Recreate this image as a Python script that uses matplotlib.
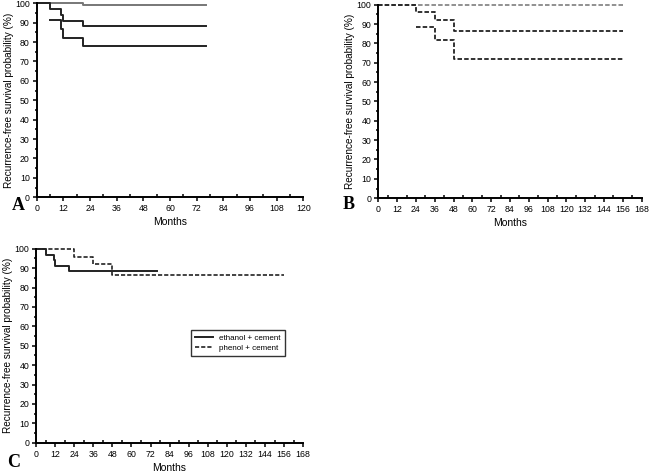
import matplotlib
matplotlib.use("Agg")
import matplotlib.pyplot as plt
from matplotlib.ticker import MultipleLocator

plt.rcParams['font.family'] = ['Liberation Sans', 'DejaVu Sans']

# panel A: ethanol + cement, KM estimate with confidence bounds
a_mid_t = [0, 6, 11, 12, 21, 76]
a_mid_s = [100, 97, 94, 91, 88.3, 88.3]
a_up_t = [0, 21, 76]
a_up_s = [100, 99, 99]
a_lo_t = [6, 11, 12, 21, 76]
a_lo_s = [91.5, 86.5, 82, 78, 78]

# panel B: phenol + cement
b_mid_t = [0, 24, 36, 48, 156]
b_mid_s = [100, 96, 92.3, 86.5, 86.5]
b_up_t = [0, 156]
b_up_s = [100, 100]
b_lo_t = [24, 36, 48, 156]
b_lo_s = [88.5, 82, 72, 72]

# panel C: both estimates
c_eth_t = [0, 6, 11, 12, 21, 76]
c_eth_s = [100, 97, 94, 91, 88.3, 88.3]
c_phe_t = [0, 24, 36, 48, 156]
c_phe_s = [100, 96, 92.3, 86.5, 86.5]

fig = plt.figure(figsize=(6.5, 4.73), dpi=100)
axA = fig.add_axes([0.0565, 0.583, 0.410, 0.410])
axB = fig.add_axes([0.582, 0.581, 0.405, 0.409])
axC = fig.add_axes([0.0554, 0.064, 0.411, 0.410])


def style(ax, xmax):
    ax.set_xlim(0, xmax)
    ax.set_ylim(0, 100)
    for s in ['top', 'right']:
        ax.spines[s].set_visible(False)
    for s in ['left', 'bottom']:
        ax.spines[s].set_linewidth(1.4)
    ax.xaxis.set_major_locator(MultipleLocator(12))
    ax.xaxis.set_minor_locator(MultipleLocator(6))
    ax.yaxis.set_major_locator(MultipleLocator(10))
    ax.yaxis.set_minor_locator(MultipleLocator(5))
    ax.tick_params(which='major', direction='out', length=3, width=1.1, labelsize=6.3, pad=2)
    ax.tick_params(axis='x', which='minor', direction='in', length=2.5, width=1.1)
    ax.tick_params(axis='y', which='minor', direction='out', length=1.8, width=1.1)
    ax.set_xlabel('Months', fontsize=7.5, labelpad=3)
    ax.set_ylabel('Recurrence-free survival probability (%)', fontsize=7.2, labelpad=1)


style(axA, 120)
axA.step(a_up_t, a_up_s, where='post', color='#777777', lw=1.4, clip_on=False)
axA.step(a_mid_t, a_mid_s, where='post', color='#222222', lw=1.4, clip_on=False)
axA.step(a_lo_t, a_lo_s, where='post', color='#222222', lw=1.4, clip_on=False)

style(axB, 168)
dash = (0, (2.5, 1.2))
axB.step(b_up_t, b_up_s, where='post', color='#888888', lw=1.3, ls=dash, clip_on=False)
axB.step(b_mid_t, b_mid_s, where='post', color='#222222', lw=1.3, ls=dash, clip_on=False)
axB.step(b_lo_t, b_lo_s, where='post', color='#222222', lw=1.3, ls=dash, clip_on=False)

style(axC, 168)
axC.step(c_eth_t, c_eth_s, where='post', color='#222222', lw=1.4, clip_on=False,
         label='ethanol + cement')
axC.step(c_phe_t, c_phe_s, where='post', color='#222222', lw=1.2, ls=dash,
         clip_on=False, label='phenol + cement')
leg = axC.legend(loc='upper left', bbox_to_anchor=(0.565, 0.60), fontsize=5.8,
                 frameon=True, fancybox=False, edgecolor='black', handlelength=2.2,
                 borderpad=0.5, labelspacing=0.3, handletextpad=0.8)
leg.get_frame().set_linewidth(1.0)

fig.text(12 / 650, 1 - 210 / 473, 'A', family='Liberation Serif', weight='bold', fontsize=13)
fig.text(343 / 650, 1 - 209 / 473, 'B', family='Liberation Serif', weight='bold', fontsize=13)
fig.text(7 / 650, 1 - 467 / 473, 'C', family='Liberation Serif', weight='bold', fontsize=13)

fig.savefig('out.png', dpi=100)
